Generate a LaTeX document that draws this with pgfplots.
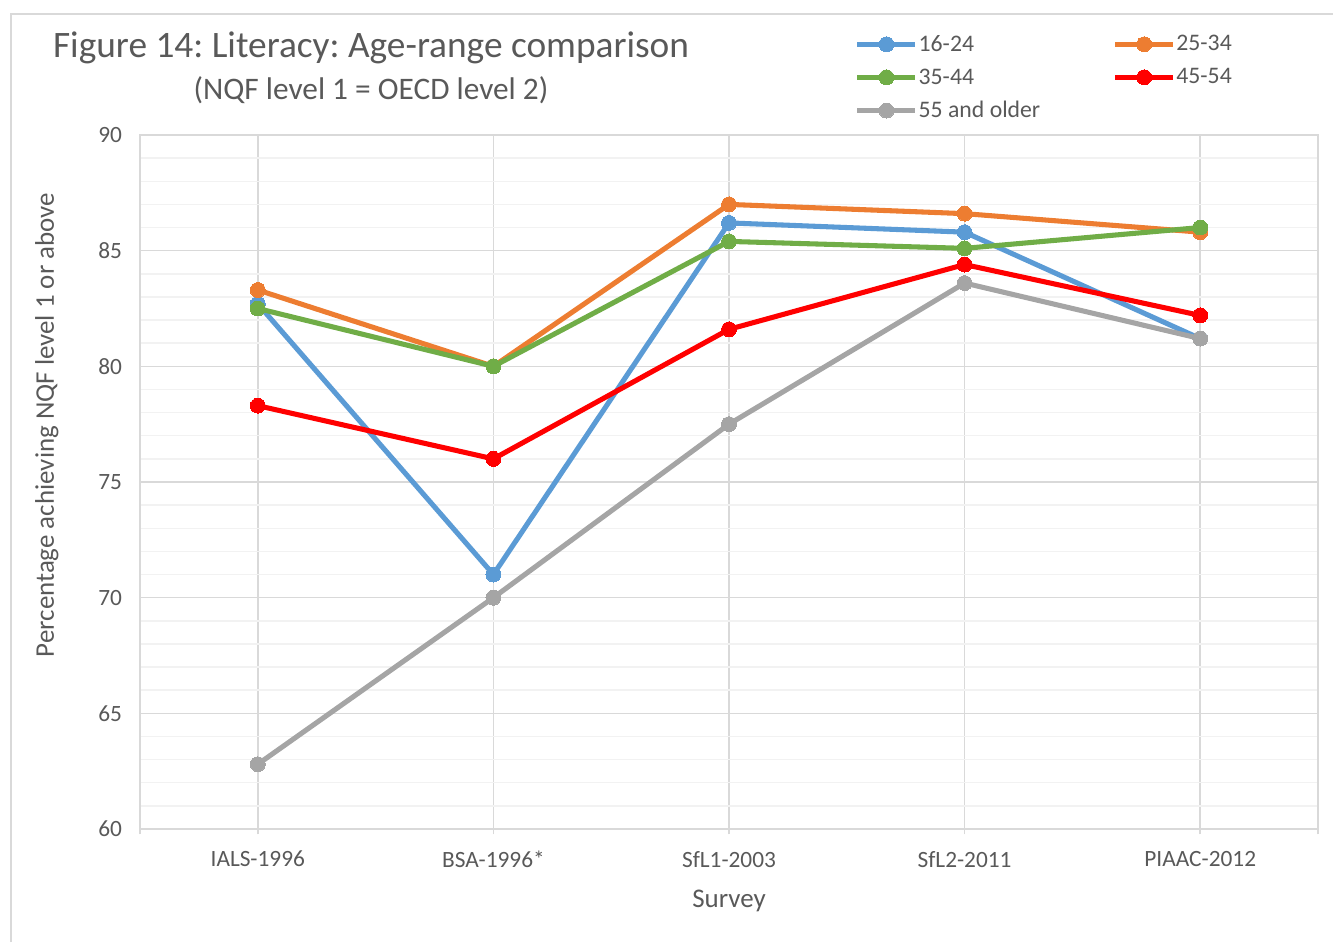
\documentclass[border=0pt]{standalone}
\usepackage{pgfplots}
\pgfplotsset{compat=1.18}
\usepackage{fontspec}
\setmainfont{Carlito}
\frenchspacing
\definecolor{cblue}{HTML}{5B9BD5}
\definecolor{corange}{HTML}{ED7D31}
\definecolor{cgreen}{HTML}{70AD47}
\definecolor{cred}{HTML}{FF0000}
\definecolor{cgray}{HTML}{A5A5A5}
\definecolor{txt}{HTML}{595959}
\definecolor{gridc}{HTML}{D9D9D9}
\definecolor{minorc}{HTML}{F2F2F2}
\begin{document}
\begin{tikzpicture}
\useasboundingbox (-105pt,-84.75pt) rectangle (894.75pt,621.75pt);
\draw[gridc,line width=1.2pt] (-96.75pt,-84.75pt) -- (-96.75pt,611.25pt) -- (894.75pt,611.25pt);
\begin{axis}[
  at={(0,0)}, anchor=south west,
  scale only axis,
  width=883.5pt, height=520.5pt,
  xmin=-0.5, xmax=4.5,
  ymin=60, ymax=90,
  xtick={0,1,2,3,4},
  xticklabels={IALS-1996,BSA-1996*,SfL1-2003,SfL2-2011,PIAAC-2012},
  extra x ticks={-0.5,4.5},
  extra x tick labels={},
  extra x tick style={grid=none},
  ytick={60,65,70,75,80,85,90},
  minor ytick={61,62,63,64,66,67,68,69,71,72,73,74,76,77,78,79,81,82,83,84,86,87,88,89},
  xmajorgrids, ymajorgrids, yminorgrids,
  major grid style={gridc,line width=1.1pt},
  minor grid style={minorc,line width=1.1pt},
  axis line style={gridc,line width=1.3pt},
  tick style={gridc,line width=1.1pt},
  xtick pos=bottom, ytick pos=left,
  tick align=outside,
  major tick length=4pt,
  ytick style={draw=none},
  minor tick length=0pt,
  /pgf/number format/assume math mode=true,
  tick label style={font=\fontsize{17.5pt}{20pt}\selectfont, text=txt},
  xticklabel style={yshift=-9pt},
  yticklabel style={xshift=-6pt},
  xlabel={Survey},
  ylabel={Percentage achieving NQF level 1 or above},
  label style={font=\fontsize{20.2pt}{24pt}\selectfont, text=txt},
  xlabel style={yshift=-2pt},
  ylabel style={at={(axis description cs:-0.079,0.582)}, anchor=center},
  every axis plot/.append style={line width=3.8pt, mark=*, mark size=5.6pt, mark options={line width=0pt}},
  legend columns=2,
  legend cell align=left,
  legend style={at={(536pt,596pt)}, anchor=north west, draw=none, fill=none,
    font=\fontsize{17.8pt}{20pt}\selectfont, text=txt,
    row sep=10.5pt, inner sep=0pt,
    nodes={inner sep=0.5pt}},
  legend image code/.code={\draw[mark repeat=2,mark phase=2,#1] plot coordinates {(0pt,0pt) (21.75pt,0pt) (43.5pt,0pt)};},
  clip=false,
]
\addplot[cblue] coordinates {(0,82.7) (1,71.0) (2,86.2) (3,85.8) (4,81.2)};
\addplot[corange] coordinates {(0,83.3) (1,80.0) (2,87.0) (3,86.6) (4,85.8)};
\addplot[cgreen] coordinates {(0,82.5) (1,80.0) (2,85.4) (3,85.1) (4,86.0)};
\addplot[cred] coordinates {(0,78.3) (1,76.0) (2,81.6) (3,84.4) (4,82.2)};
\addplot[cgray] coordinates {(0,62.8) (1,70.0) (2,77.5) (3,83.6) (4,81.2)};
\legend{\makebox[145pt][l]{16-24},25-34,\makebox[145pt][l]{35-44},45-54,\makebox[145pt][l]{55 and older}}
\end{axis}
\node[text=txt, font=\fontsize{28pt}{32pt}\selectfont] at (173.25pt,586pt) {Figure 14: Literacy: Age-range comparison};
\node[text=txt, font=\fontsize{23.5pt}{28pt}\selectfont] at (173.25pt,554pt) {(NQF level 1 = OECD level 2)};
\end{tikzpicture}
\end{document}
